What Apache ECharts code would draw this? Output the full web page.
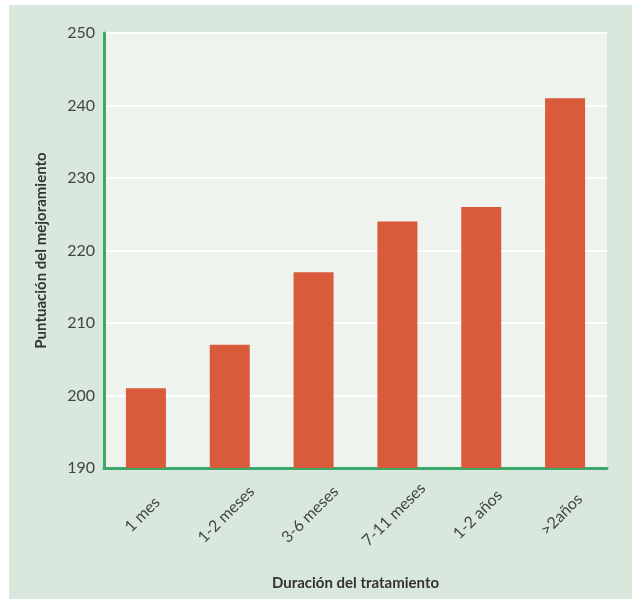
<!DOCTYPE html>
<html>
<head>
<meta charset="utf-8">
<script src="https://cdn.jsdelivr.net/npm/echarts@6/dist/echarts.min.js"></script>
<style>
  html, body { margin: 0; padding: 0; background: #fff; }
  #chart { width: 632px; height: 599px; }
</style>
</head>
<body>
<div id="chart"></div>
<script>
// duración del tratamiento vs. puntuación
var categories = ['1 mes', '1-2 meses', '3-6 meses', '7-11 meses', '1-2 años', '>2años'];
var scores = [201, 207, 217, 224, 226, 241];
var yTicks = [190, 200, 210, 220, 230, 240, 250];

var axisGreen = '#3aa86a';
var textColor = '#444';
var fontFamily = 'Lato, "Open Sans", sans-serif';

var chart = echarts.init(document.getElementById('chart'));

var option = {
  backgroundColor: '#ffffff',
  animation: false,
  graphic: [{
    type: 'rect',
    z: -10,
    shape: { x: 9, y: 5, width: 623, height: 594 },
    style: { fill: '#d9e8dd' }
  }],
  grid: {
    left: 104,
    top: 33,
    right: 25,
    bottom: 131,
    show: true,
    backgroundColor: '#eef3ee',
    borderWidth: 0
  },
  xAxis: {
    type: 'category',
    data: categories,
    name: 'Duración del tratamiento',
    nameLocation: 'middle',
    nameGap: 108,
    nameTextStyle: { fontFamily: fontFamily, fontSize: 15, fontWeight: 'bold', color: '#333' },
    axisLine: { lineStyle: { color: axisGreen, width: 3 } },
    axisTick: { show: false },
    axisLabel: {
      rotate: 45,
      align: 'center',
      verticalAlign: 'middle',
      margin: 43,
      padding: [0, 10, 0, 0],
      fontFamily: fontFamily,
      fontSize: 16,
      color: textColor
    }
  },
  yAxis: {
    type: 'value',
    min: yTicks[0],
    max: yTicks[yTicks.length - 1],
    interval: 10,
    name: 'Puntuación del mejoramiento',
    nameLocation: 'middle',
    nameGap: 55,
    nameTextStyle: { fontFamily: fontFamily, fontSize: 15, fontWeight: 'bold', color: '#333' },
    axisLine: { show: true, lineStyle: { color: axisGreen, width: 3 } },
    axisTick: { show: false },
    axisLabel: {
      margin: 9,
      fontFamily: fontFamily,
      fontSize: 16,
      color: textColor
    },
    splitLine: { lineStyle: { color: '#ffffff', width: 2 } }
  },
  series: [{
    type: 'bar',
    data: scores,
    barWidth: 40,
    itemStyle: { color: '#d95b3c' }
  }]
};

chart.setOption(option);
</script>
</body>
</html>
